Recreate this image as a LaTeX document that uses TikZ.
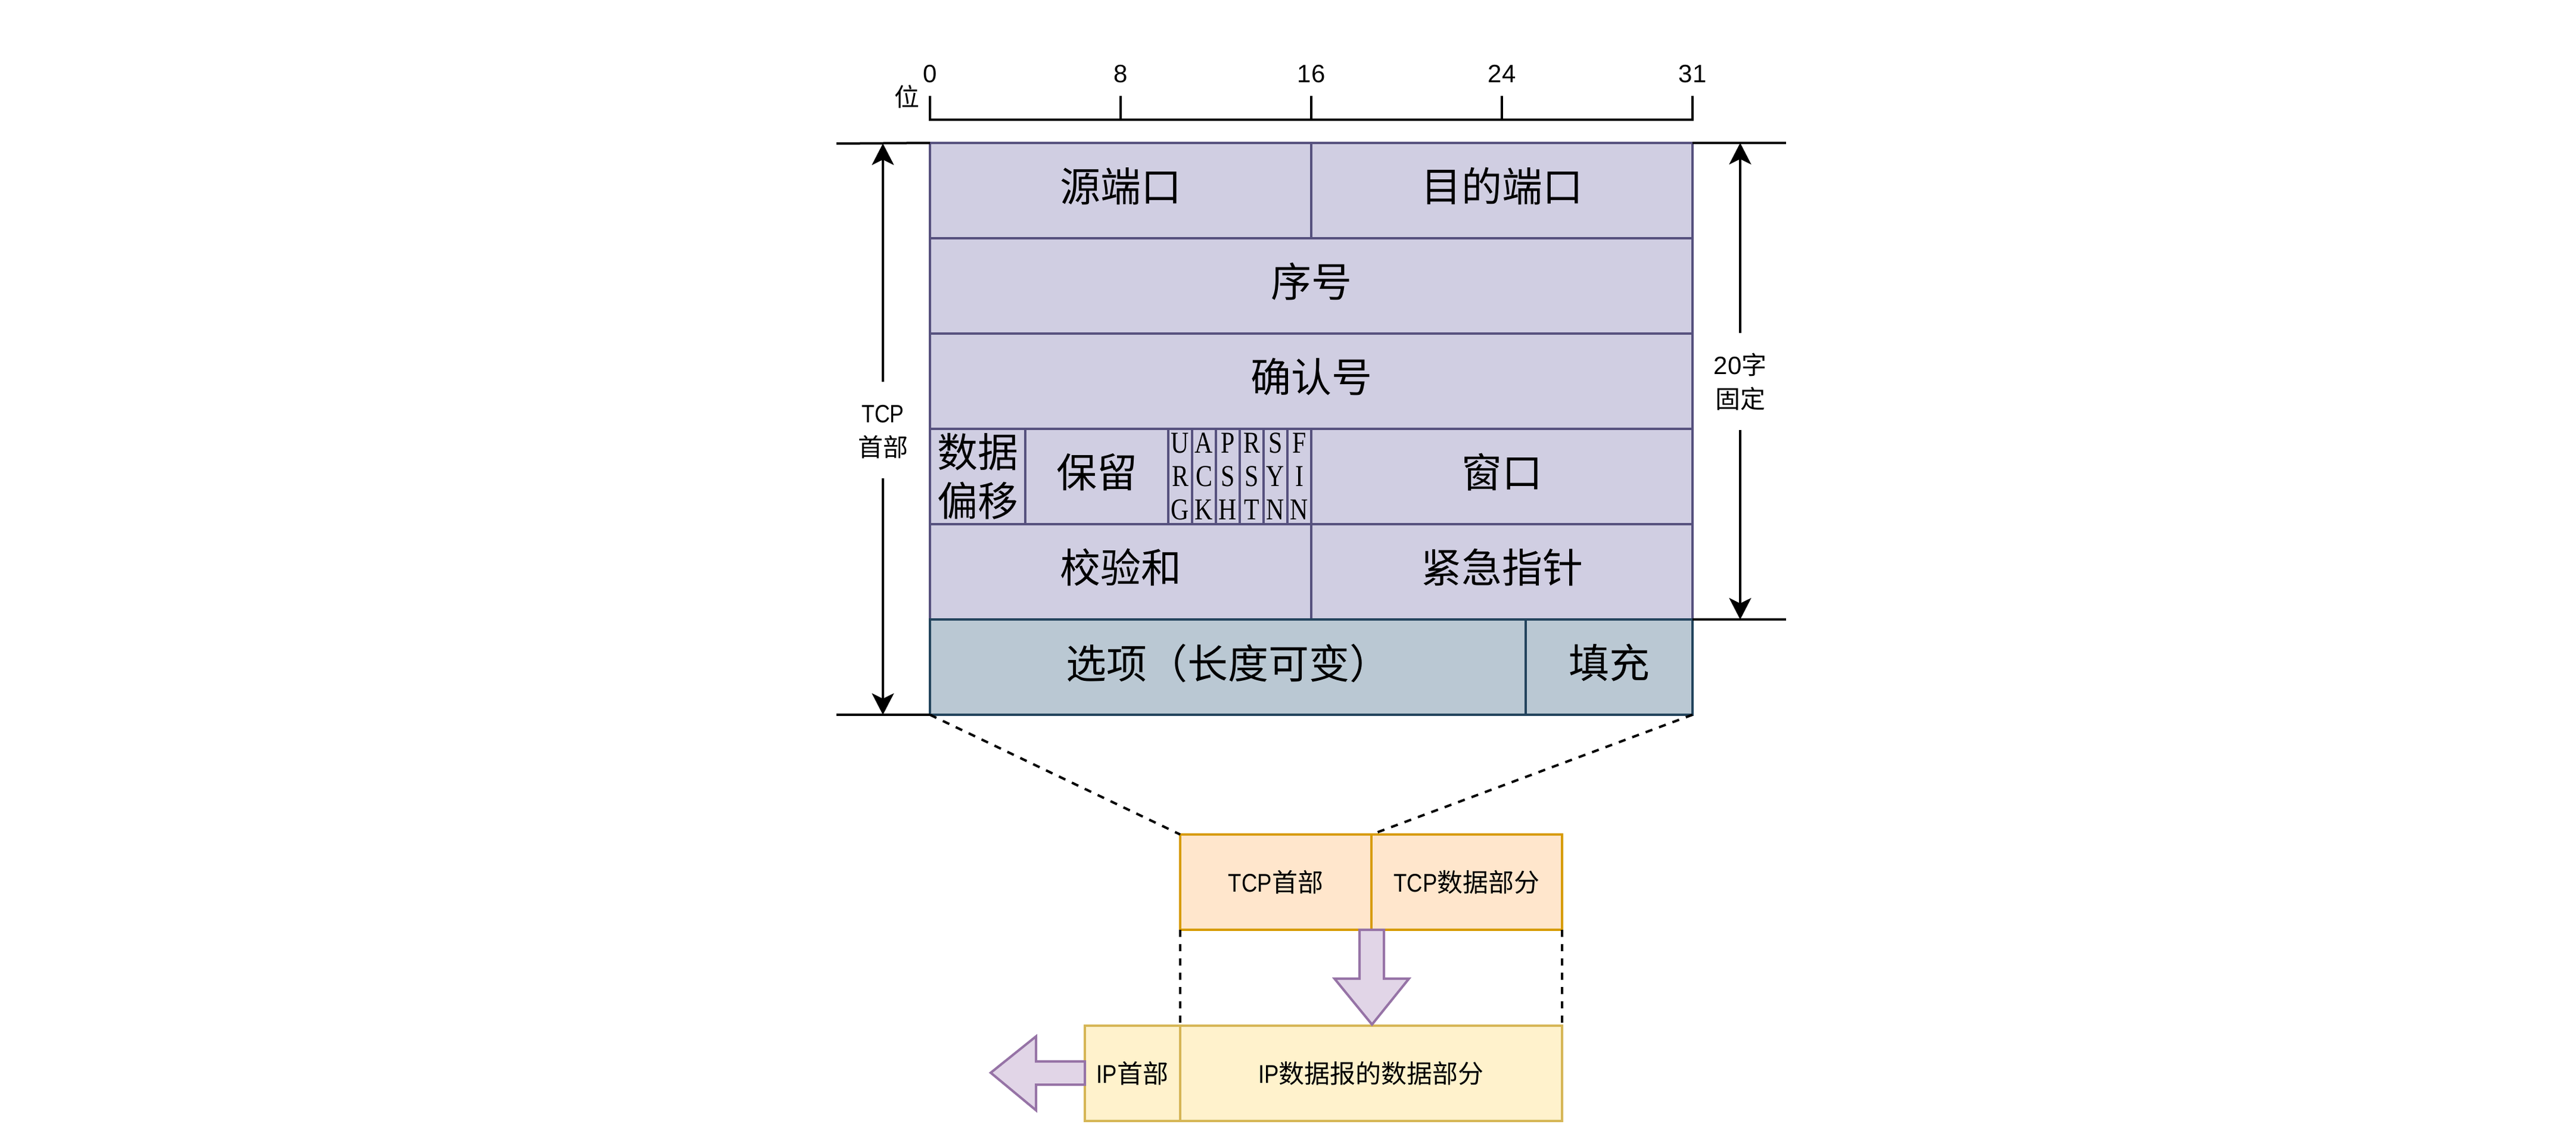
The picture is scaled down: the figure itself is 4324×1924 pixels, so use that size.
\documentclass[tikz,border=0pt]{standalone}
\usepackage{fontspec}
\usetikzlibrary{arrows.meta}
\newfontfamily\cjk{Noto Sans CJK SC}
\newfontfamily\lsans{Liberation Sans}
\newfontfamily\nsans[FakeStretch=0.85]{Liberation Sans}
\newfontfamily\lserif[FakeStretch=0.82]{Liberation Serif}
\definecolor{pfill}{HTML}{D0CEE2}
\definecolor{pline}{HTML}{56517E}
\definecolor{bfill}{HTML}{BAC8D3}
\definecolor{bline}{HTML}{23445D}
\definecolor{ofill}{HTML}{FFE6CC}
\definecolor{oline}{HTML}{D79B00}
\definecolor{yfill}{HTML}{FFF2CC}
\definecolor{yline}{HTML}{D6B656}
\definecolor{afill}{HTML}{E1D5E7}
\definecolor{aline}{HTML}{9673A6}
\begin{document}
\begin{tikzpicture}[x=1pt,y=-1pt,
  wh/.style 2 args={minimum width=#1pt, minimum height=#2pt},
  base/.style={inner sep=0pt, outer sep=0pt, align=center},
  cellPbase/.style={base, draw=pline, fill=pfill, line width=3.5pt, font={\cjk\fontsize{68pt}{82pt}\selectfont}},
  cellP/.style={cellPbase, text depth=20pt},
  cellB/.style={base, draw=bline, fill=bfill, line width=3.5pt, text depth=20pt, font={\cjk\fontsize{68pt}{82pt}\selectfont}},
  flagcell/.style={base, draw=pline, fill=pfill, line width=3.5pt, font={\lserif\fontsize{51pt}{56pt}\selectfont}},
  tcpbox/.style={base, draw=oline, fill=ofill, line width=4pt, font={\cjk\fontsize{43pt}{52pt}\selectfont}},
  ipbox/.style={base, draw=yline, fill=yfill, line width=4pt, font={\cjk\fontsize{43pt}{52pt}\selectfont}},
  numlbl/.style={base, font={\lsans\fontsize{42pt}{50pt}\selectfont}},
  sidelbl/.style={base, font={\cjk\fontsize{42pt}{57pt}\selectfont}},
  rulerline/.style={line width=3.5pt, line cap=rect},
  dimline/.style={line width=4pt},
  dimarrow/.style={line width=3.3pt, -{Stealth[length=36pt, width=37pt, inset=9pt]}},
  dashline/.style={line width=4pt, dash pattern=on 12pt off 12pt},
  bigarrow/.style={draw=aline, fill=afill, line width=4pt, line join=miter}
]
\useasboundingbox (0,0) rectangle (4324,1924);

% ---- ruler ----
\coordinate (r0) at (1561,201);
\coordinate (r8) at (1881,201);
\coordinate (r16) at (2201,201);
\coordinate (r24) at (2521,201);
\coordinate (r31) at (2841,201);
\draw[rulerline] (r0) -- (r31);
\foreach \xx in {1561,1881,2201,2521,2841} \draw[line width=3.5pt] (\xx,161) -- (\xx,201);
\node[numlbl] (n0) at (1561,124) {0};
\node[numlbl] (n8) at (1881,124) {8};
\node[numlbl] (n16) at (2201,124) {16};
\node[numlbl] (n24) at (2521,124) {24};
\node[numlbl] (n31) at (2841,124) {31};
\node[sidelbl] (wei) at (1522,162) {位};

% ---- header table ----
\node[cellP, wh={640}{160}] (srcport) at (1881,320) {源端口};
\node[cellP, wh={640}{160}] (dstport) at (2521,320) {目的端口};
\node[cellP, wh={1280}{160}] (seq) at (2201,480) {序号};
\node[cellP, wh={1280}{160}] (ackno) at (2201,640) {确认号};
\node[cellPbase, wh={160}{160}] (off) at (1641,800) {数据\\偏移};
\node[cellP, wh={240}{160}] (rsv) at (1841,800) {保留};
\node[flagcell, wh={40}{160}] (furg) at (1981,800) {U\\R\\G};
\node[flagcell, wh={40}{160}] (fack) at (2021,800) {A\\C\\K};
\node[flagcell, wh={40}{160}] (fpsh) at (2061,800) {P\\S\\H};
\node[flagcell, wh={40}{160}] (frst) at (2101,800) {R\\S\\T};
\node[flagcell, wh={40}{160}] (fsyn) at (2141,800) {S\\Y\\N};
\node[flagcell, wh={40}{160}] (ffin) at (2181,800) {F\\I\\N};
\node[cellP, wh={640}{160}] (win) at (2521,800) {窗口};
\node[cellP, wh={640}{160}] (cks) at (1881,960) {校验和};
\node[cellP, wh={640}{160}] (urgp) at (2521,960) {紧急指针};
\node[cellB, wh={1000}{160}] (opt) at (2061,1120) {选项（长度可变）};
\node[cellB, wh={280}{160}] (pad) at (2701,1120) {填充};

% ---- dimension lines ----
\coordinate (lh1) at (1404,241);
\coordinate (lh2) at (1404,1200);
\coordinate (rh1) at (2998,240);
\coordinate (rh2) at (2998,1040);
\draw[dimline] (lh1) -- (srcport.north west);
\draw[dimline] (lh2) -- (opt.south west);
\draw[dimline] (dstport.north east) -- (rh1);
\draw[dimline] (urgp.south east) -- (rh2);

\node[sidelbl] (tcplbl) at (1482,725) {{\nsans TCP}\\首部};
\node[sidelbl] (fixlbl) at (2921,641) {{\lsans 20}字\\固定};
\coordinate (la1) at (1482,641);
\coordinate (ltop) at (1482,241);
\coordinate (la2) at (1482,803);
\coordinate (lbot) at (1482,1200);
\coordinate (ra1) at (2921,559);
\coordinate (rtop) at (2921,240);
\coordinate (ra2) at (2921,722);
\coordinate (rbot) at (2921,1040);
\draw[dimarrow] (la1) -- (ltop);
\draw[dimarrow] (la2) -- (lbot);
\draw[dimarrow] (ra1) -- (rtop);
\draw[dimarrow] (ra2) -- (rbot);

% ---- lower boxes ----
\node[tcpbox, wh={321}{160}] (tcph) at (2141.5,1481) {{\nsans TCP}首部};
\node[tcpbox, wh={320}{160}] (tcpd) at (2462,1481) {{\nsans TCP}数据部分};
\node[ipbox, wh={160}{160}] (iph) at (1901,1802) {{\nsans IP}首部};
\node[ipbox, wh={641}{160}] (ipd) at (2301.5,1802) {{\nsans IP}数据报的数据部分};

\draw[dashline] (opt.south west) -- (tcph.north west);
\draw[dashline] (pad.south east) -- (tcpd.north west);
\draw[dashline] (tcph.south west) -- (ipd.north west);
\draw[dashline] (tcpd.south east) -- (ipd.north east);

% ---- block arrows ----
\draw[bigarrow] (2282,1561) -- (2282,1643) -- (2240,1643) -- (2303,1720) -- (2365,1643) -- (2323,1643) -- (2323,1561) -- cycle;
\draw[bigarrow] (1821,1782) -- (1739,1782) -- (1739,1740) -- (1663,1801) -- (1739,1864) -- (1739,1821) -- (1821,1821) -- cycle;
\end{tikzpicture}
\end{document}
